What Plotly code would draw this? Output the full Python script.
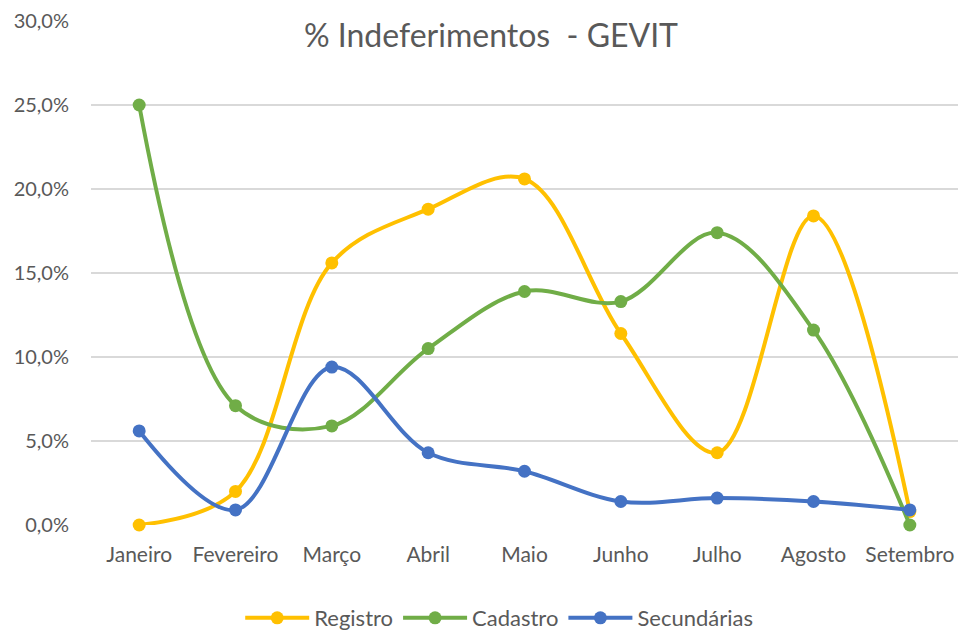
import plotly.graph_objects as go

months = ["Janeiro", "Fevereiro", "Março", "Abril", "Maio", "Junho", "Julho", "Agosto", "Setembro"]
registro = [0.000, 0.020, 0.156, 0.188, 0.206, 0.114, 0.043, 0.184, 0.008]
cadastro = [0.250, 0.071, 0.059, 0.105, 0.139, 0.133, 0.174, 0.116, 0.000]
secundarias = [0.056, 0.009, 0.094, 0.043, 0.032, 0.014, 0.016, 0.014, 0.009]

series = [
    ("Registro", registro, "#FFC000"),
    ("Cadastro", cadastro, "#70AD47"),
    ("Secundárias", secundarias, "#4472C4"),
]

fig = go.Figure()
for name, vals, color in series:
    fig.add_trace(go.Scatter(
        x=months, y=vals, name=name, mode="lines+markers", cliponaxis=False,
        line=dict(color=color, width=4, shape="spline", smoothing=1.0),
        marker=dict(color=color, size=13),
    ))

fig.update_layout(
    width=960, height=631,
    margin=dict(l=91, r=2, t=21, b=106),
    paper_bgcolor="white", plot_bgcolor="white",
    separators=",.",
    font=dict(family="Lato, Open Sans, sans-serif", size=20, color="#595959"),
    title=dict(text="% Indeferimentos  - GEVIT", x=491 / 960, xanchor="center",
               y=1 - 36 / 631, yanchor="middle", yref="container",
               font=dict(size=32, color="#595959")),
    showlegend=True,
    legend=dict(orientation="h", x=452 / 960, xanchor="center", y=1 - 618 / 631,
                yref="container", yanchor="middle", font=dict(size=22),
                itemwidth=64),
    xaxis=dict(range=[-0.5, 8.5], showgrid=False, showline=False, zeroline=False,
               automargin=False,
               ticks="outside", ticklen=11, tickcolor="rgba(0,0,0,0)",
               tickfont=dict(size=21)),
    yaxis=dict(range=[0, 0.30], dtick=0.05, tickformat=".1%", automargin=False,
               showgrid=True, gridcolor="#D9D9D9", gridwidth=2,
               zeroline=False, showline=False,
               ticks="outside", ticklen=17, tickcolor="rgba(0,0,0,0)",
               tickfont=dict(size=20)),
)

fig.write_html("out.html", config={"displayModeBar": False},
               post_script="document.body.style.margin='0px';")
